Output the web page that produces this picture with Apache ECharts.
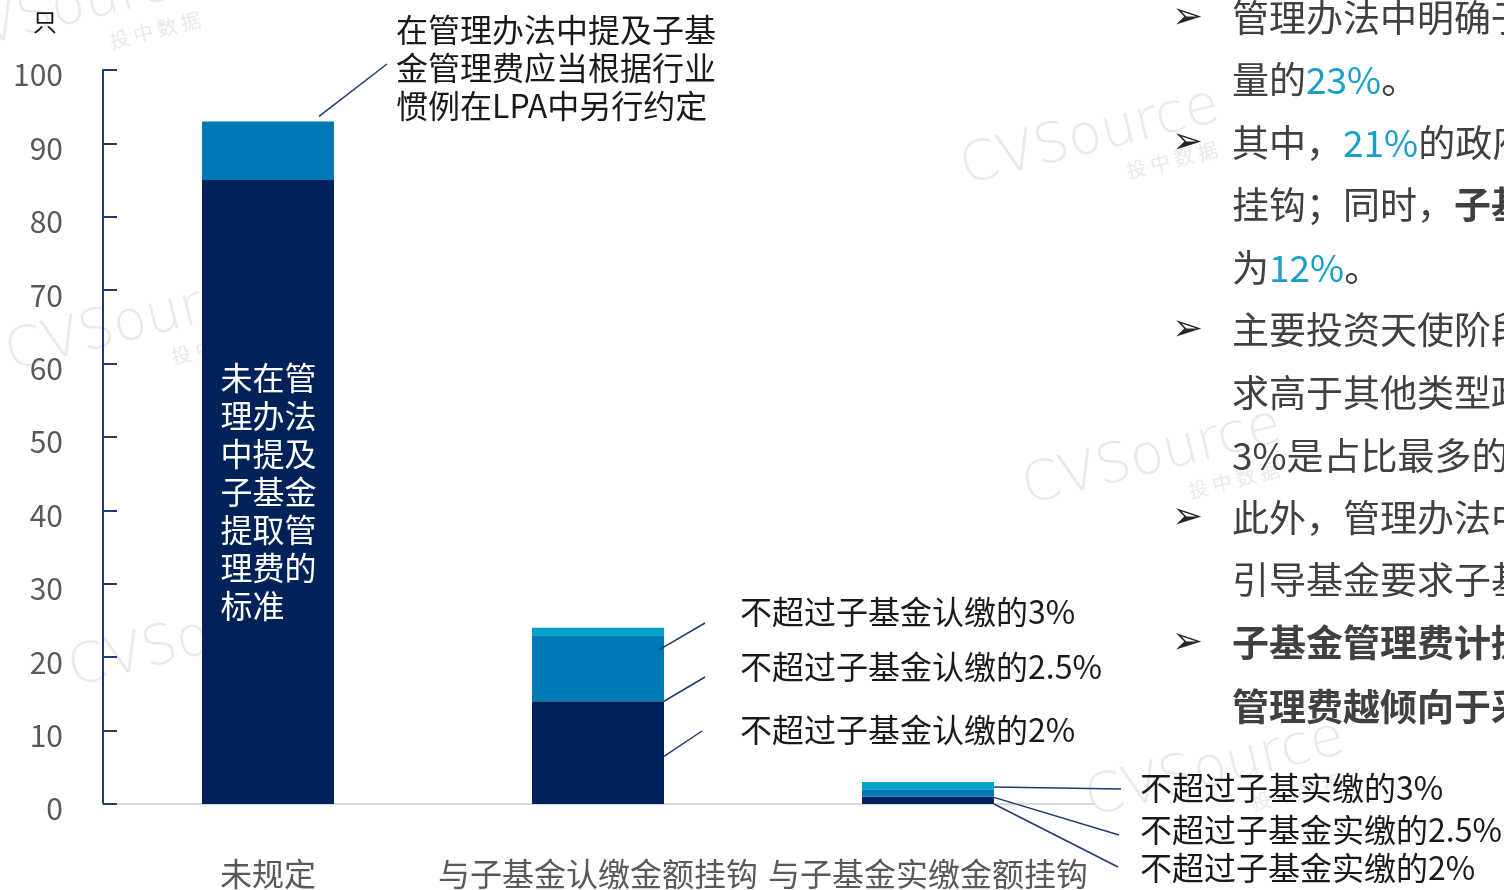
<!DOCTYPE html>
<html>
<head>
<meta charset="utf-8">
<title>子基金管理费计提方式</title>
<script src="https://cdn.jsdelivr.net/npm/echarts@6/dist/echarts.min.js"></script>
<style>
  html, body { margin: 0; padding: 0; background: #fff; }
  #chart { width: 1504px; height: 890px; }
</style>
</head>
<body>
<div id="chart"></div>
<script>
// Categories and stacked counts (只)
const categories = ['未规定', '与子基金认缴金额挂钩', '与子基金实缴金额挂钩'];
const lowTier  = [85, 14, 1];   // 2% / 未规定
const midTier  = [8, 9, 1];     // 2.5% / LPA另行约定
const highTier = [0, 1, 1];     // 3%
const yTicks = { min: 0, max: 100, interval: 10 };

const FONT = 'Noto Sans CJK SC';
const C_DARK = '#002259';
const C_MID = '#0079B5';
const C_LIGHT = '#00A2CB';
const C_LEAD = '#1F3A6E';

// Callouts: text, text anchor, and the bar point each leader starts from
const callouts = [
  { text: '在管理办法中提及子基\n金管理费应当根据行业\n惯例在LPA中另行约定', pos: [396, 68], cat: 0, val: 93, dx: -15, dy: -5, end: [387, 64] },
  { text: '不超过子基金认缴的3%',   pos: [740, 612], cat: 1, val: 21,  dx: -5, dy: 0, end: [705, 623] },
  { text: '不超过子基金认缴的2.5%', pos: [740, 667], cat: 1, val: 14,  dx: 0,  dy: 0, end: [705, 677] },
  { text: '不超过子基金认缴的2%',   pos: [740, 730], cat: 1, val: 6.5, dx: 0,  dy: 0, end: [702, 731] },
  { text: '不超过子基实缴的3%',     pos: [1140, 788], cat: 2, val: 2.3, dx: 0, dy: 0, end: [1121, 789] },
  { text: '不超过子基金实缴的2.5%', pos: [1140, 830], cat: 2, val: 0.9, dx: 0, dy: 0, end: [1119, 835] },
  { text: '不超过子基金实缴的2%',   pos: [1140, 868], cat: 2, val: 0,   dx: 0, dy: 0, end: [1118, 867] }
];

// Side commentary lines
const notes = [
  { y: 18,  bullet: true, text: '管理办法中明确子' },
  { y: 80,  text: '量的{p|23%}。' },
  { y: 143, bullet: true, text: '其中，{p|21%}的政府' },
  { y: 205, text: '挂钩；同时，{b|子基金}' },
  { y: 268, text: '为{p|12%}。' },
  { y: 330, bullet: true, text: '主要投资天使阶段' },
  { y: 393, text: '求高于其他类型政' },
  { y: 456, text: '3%是占比最多的' },
  { y: 518, bullet: true, text: '此外，管理办法中' },
  { y: 580, text: '引导基金要求子基' },
  { y: 643, bullet: true, bold: true, text: '子基金管理费计提' },
  { y: 707, bold: true, text: '管理费越倾向于采' }
];

// Brand watermark centres
const marks = [[73, 8], [135, 324], [198, 640], [1090, 138], [1152, 458], [1215, 770]];

const chart = echarts.init(document.getElementById('chart'), null, { renderer: 'canvas' });

const barBase = { type: 'bar', stack: 'total', barWidth: '40%', emphasis: { disabled: true } };

chart.setOption({
  animation: false,
  backgroundColor: '#fff',
  textStyle: { fontFamily: FONT },
  grid: { left: 103, right: 411, top: 70, bottom: 84.5, containLabel: false },
  xAxis: {
    type: 'category',
    data: categories,
    axisLine: { lineStyle: { color: '#D9D9D9', width: 2 } },
    axisTick: { show: false },
    axisLabel: { color: '#595959', fontSize: 32, fontFamily: FONT, margin: 54, interval: 0 }
  },
  yAxis: {
    type: 'value',
    min: yTicks.min, max: yTicks.max, interval: yTicks.interval,
    axisLine: { show: true, lineStyle: { color: C_LEAD, width: 2 } },
    axisTick: { show: true, inside: true, length: 14, lineStyle: { color: C_LEAD, width: 2 } },
    splitLine: { show: false },
    axisLabel: {
      color: '#595959', fontSize: 30, fontFamily: FONT, margin: 40,
      verticalAlign: 'top', lineHeight: 10
    }
  },
  series: [
    Object.assign({}, barBase, {
      name: 'low', itemStyle: { color: C_DARK }, z: 3,
      data: lowTier.map((v, i) => i === 0 ? {
        value: v,
        label: {
          show: true, position: 'inside', align: 'left', offset: [-47.5, 0],
          formatter: '未在管\n理办法\n中提及\n子基金\n提取管\n理费的\n标准',
          color: '#fff', fontSize: 32, lineHeight: 38, fontFamily: FONT
        }
      } : v)
    }),
    Object.assign({}, barBase, { name: 'mid', itemStyle: { color: C_MID }, z: 3, data: midTier }),
    Object.assign({}, barBase, { name: 'high', itemStyle: { color: C_LIGHT }, z: 3, data: highTier })
  ]
});

// Overlay: watermarks, callouts, leaders and side notes
function buildOverlay() {
  const g = [];
  const rot = 14 * Math.PI / 180;
  marks.forEach(([x, y]) => {
    g.push({
      type: 'text', x, y, rotation: rot, z: 0, silent: true,
      style: { text: 'CVSource', fill: '#EAEAEA', font: '200 55px "DejaVu Sans"', align: 'center', verticalAlign: 'middle' }
    });
    g.push({
      type: 'text', x: x + 82, y: y + 22, rotation: rot, z: 0, silent: true,
      style: { text: '投 中 数 据', fill: '#EAEAEA', font: '20px "Noto Sans CJK SC"', align: 'center', verticalAlign: 'middle' }
    });
  });

  const p0 = chart.convertToPixel({ gridIndex: 0 }, [0, 0]);
  const p1 = chart.convertToPixel({ gridIndex: 0 }, [1, 0]);
  const halfBar = (p1[0] - p0[0]) * 0.4 / 2;

  callouts.forEach(c => {
    const p = chart.convertToPixel({ gridIndex: 0 }, [c.cat, c.val]);
    const sx = p[0] + halfBar + c.dx;
    const sy = p[1] + c.dy;
    g.push({
      type: 'line', z: 50, silent: true,
      shape: { x1: sx, y1: sy, x2: c.end[0], y2: c.end[1] },
      style: { stroke: C_LEAD, lineWidth: 1.5 }
    });
    g.push({
      type: 'text', x: c.pos[0], y: c.pos[1], z: 50, silent: true,
      style: {
        text: c.text, fill: '#1A1A1A', font: '32px "Noto Sans CJK SC"',
        lineHeight: 38, align: 'left', verticalAlign: 'middle'
      }
    });
  });

  notes.forEach(n => {
    if (n.bullet) {
      g.push({
        type: 'text', x: 1172, y: n.y, z: 50, silent: true,
        style: { text: '➢', fill: '#262626', font: 'bold 37px "DejaVu Sans"', align: 'left', verticalAlign: 'middle' }
      });
    }
    const weight = n.bold ? 'bold ' : '';
    g.push({
      type: 'text', x: 1232, y: n.y, z: 50, silent: true,
      style: {
        text: n.text, fill: '#404040', font: weight + '37px "Noto Sans CJK SC"',
        align: 'left', verticalAlign: 'middle',
        rich: {
          p: { fill: '#1A9FC9', font: '37px "Noto Sans CJK SC"' },
          b: { fill: '#404040', font: 'bold 37px "Noto Sans CJK SC"' }
        }
      }
    });
  });

  g.push({
    type: 'text', x: 45, y: 22, z: 50, silent: true,
    style: { text: '只', fill: '#111', font: '24px "Noto Sans CJK SC"', align: 'center', verticalAlign: 'middle' }
  });

  chart.setOption({ graphic: { elements: g } });
}
buildOverlay();
</script>
</body>
</html>
